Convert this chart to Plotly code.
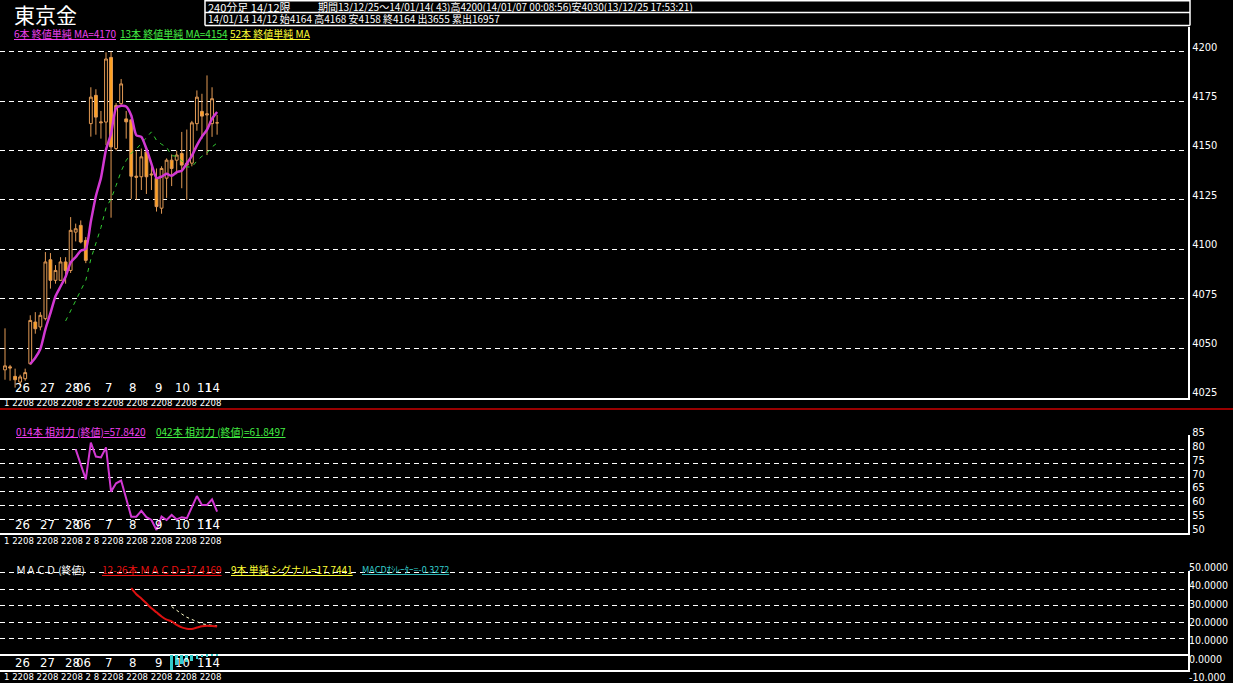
import plotly.graph_objects as go

W, H = 1233, 683

# ---------------- data (240-minute bars, 43 bars) ----------------
bar_idx = list(range(43))
open_ = [4039, 4040.5, 4035.7, 4032.8, 4034.5, 4042.1, 4063.2, 4060.7, 4064.9, 4094.7,
         4084.3, 4084.3, 4093.6, 4089.3, 4108.7, 4112.1, 4104.5, 4163.6, 4177.9, 4164,
         4164.4, 4197.1, 4151, 4173.7, 4166, 4165.5, 4137, 4136.7, 4149.3, 4137.6,
         4135.9, 4120.8, 4136, 4145.1, 4145.1, 4148.5, 4142.6, 4143.6, 4163.6, 4169.8,
         4168, 4163.6, 4164]
high_ = [4060, 4041.5, 4039.6, 4036.5, 4039.6, 4066.6, 4068.2, 4068.2, 4098.6, 4098.1,
         4092, 4096, 4096, 4116.3, 4113, 4114.6, 4106.2, 4182, 4181, 4170,
         4199.7, 4200, 4174, 4186.2, 4170, 4166, 4150, 4151, 4151.8, 4143.5,
         4140.9, 4142, 4146, 4148, 4150, 4159.4, 4160.6, 4165, 4180.4, 4178.7,
         4188, 4182, 4168]
low_ = [4034, 4033.5, 4030, 4031, 4033.5, 4041.5, 4057.3, 4059, 4064, 4080.1,
        4082.6, 4084, 4082.6, 4088, 4104, 4103, 4093, 4157, 4158, 4156,
        4152.7, 4116, 4150, 4172, 4156, 4125.5, 4125, 4130, 4128, 4130,
        4119.1, 4118, 4126, 4132, 4138, 4130.9, 4125, 4142, 4160, 4156,
        4147.7, 4156.9, 4158]
close_ = [4041, 4040, 4034, 4035.4, 4037.6, 4064, 4059.8, 4066.6, 4093.6, 4084.3,
          4089.3, 4093.6, 4089.3, 4109.6, 4110.4, 4103.7, 4094.4, 4177, 4166.9, 4164.4,
          4196.3, 4151.8, 4172.8, 4183.7, 4164.5, 4137, 4136.5, 4146.8, 4136.7, 4138,
          4121.6, 4140.9, 4145.1, 4140.9, 4147.7, 4142.6, 4143.5, 4164, 4177, 4167.4,
          4168.5, 4176.2, 4164]

ma_short_n = 6
ma_mid_n = 13

# RSI(14), bars 14..42
rsi_bars = list(range(14, 43))
rsi14 = [80.2, 75.0, 69.4, 82.6, 77.6, 77.3, 80.9, 65.0, 68.0, 69.0,
         62.5, 56.0, 56.0, 58.1, 55.8, 54.8, 51.2, 56.0, 54.8, 56.6,
         55.0, 55.8, 55.4, 59.6, 63.4, 60.2, 60.2, 62.2, 57.8]

# MACD
macd_bars = list(range(25, 43))
macd = [40.7, 37.0, 34.5, 31.5, 28.5, 26.0, 23.5, 21.5, 20.5, 18.3,
        16.8, 16.0, 15.9, 16.7, 17.5, 17.9, 17.6, 17.4]
signal_bars = list(range(33, 43))
signal = [29.5, 27.0, 25.0, 23.0, 21.5, 20.0, 19.0, 18.5, 18.0, 17.7]
osc = [-10.0, -6.0, -5.5, -4.5, -3.5, -2.5, -1.5, -1.0, -0.6, -0.3]

# axis labels
day_tick_bar = [3.56, 8.5, 13.3, 15.6, 20.4, 25.3, 30.3, 35.2, 39.6, 41.0]
day_tick_text = ["26", "27", "28", "06", "7", "8", "9", "10", "11", "14"]
price_ticks = [4025, 4050, 4075, 4100, 4125, 4150, 4175, 4200]
rsi_ticks = [50, 55, 60, 65, 70, 75, 80, 85]
macd_grid = [10, 20, 30, 40, 50]
macd_ticks = [-10, 0, 10, 20, 30, 40, 50]
macd_tick_text = ["-10.000", "0.0000", "10.0000", "20.0000", "30.0000", "40.0000", "50.0000"]
hour_text = "1 2208 2208 2208 2 8 2208 2208 2208 2208 2208"

header_big = "東京金"
header_r1a = "240分足 14/12限"
header_r1b = "期間13/12/25～14/01/14( 43)高4200(14/01/07 00:08:56)安4030(13/12/25 17:53:21)"
header_r2 = "14/01/14 14/12 始4164 高4168 安4158 終4164 出3655 累出16957"
rsi14_last = "57.8420"
rsi42_last = "61.8497"
macd_last = "17.4169"
signal_last = "17.7441"
osc_last = "-0.3272"


def sma(vals, n):
    out = []
    for i in range(len(vals)):
        out.append(None if i + 1 < n else sum(vals[i + 1 - n:i + 1]) / n)
    return out


ma6 = sma(close_, ma_short_n)
ma13 = sma(close_, ma_mid_n)

# ---------------- layout helpers (pixel -> paper) ----------------
def py(p):
    return 1 - p / H


def pxx(p):
    return p / W


XR = [-0.99, 234.26]
XDOM = [0, pxx(1188)]
FONT_JP = "Noto Sans CJK JP, sans-serif"
FONT_NUM = "Liberation Sans Narrow, DejaVu Sans Condensed, Liberation Sans, sans-serif"
MAG = "#D238D2"
GRN = "#33CC33"
YEL = "#FFFF33"
ORG = "#FFA21F"
WICK = "#E29A55"
GRID = "#FFFFFF"
DASH = "5px,4px"

fig = go.Figure()

fig.add_trace(go.Candlestick(
    x=bar_idx, open=open_, high=high_, low=low_, close=close_,
    increasing=dict(line=dict(color=WICK, width=1), fillcolor="#000000"),
    decreasing=dict(line=dict(color=WICK, width=1), fillcolor=ORG),
    whiskerwidth=0, xaxis="x", yaxis="y", showlegend=False, hoverinfo="skip"))
fig.add_trace(go.Scatter(x=bar_idx, y=ma13, mode="lines",
                         line=dict(color=GRN, width=1, dash="4px,5px"),
                         xaxis="x", yaxis="y", showlegend=False, hoverinfo="skip"))
fig.add_trace(go.Scatter(x=bar_idx, y=ma6, mode="lines",
                         line=dict(color=MAG, width=2.5, shape="spline", smoothing=0.6),
                         xaxis="x", yaxis="y", showlegend=False, hoverinfo="skip"))

fig.add_trace(go.Scatter(x=rsi_bars, y=rsi14, mode="lines",
                         line=dict(color=MAG, width=2),
                         xaxis="x2", yaxis="y2", showlegend=False, hoverinfo="skip"))

fig.add_trace(go.Bar(x=signal_bars, y=osc, width=0.35,
                     marker=dict(color="#33CCCC", line=dict(width=0)),
                     xaxis="x3", yaxis="y3", showlegend=False, hoverinfo="skip"))
fig.add_trace(go.Scatter(x=signal_bars, y=signal, mode="lines",
                         line=dict(color="#FFFFCC", width=1, dash="3px,3px"),
                         xaxis="x3", yaxis="y3", showlegend=False, hoverinfo="skip"))
fig.add_trace(go.Scatter(x=macd_bars, y=macd, mode="lines",
                         line=dict(color="#DD1111", width=2, shape="spline", smoothing=0.6),
                         xaxis="x3", yaxis="y3", showlegend=False, hoverinfo="skip"))
# carrier for the MACD label axis
fig.add_trace(go.Scatter(x=[None], y=[None], xaxis="x3", yaxis="y4",
                         showlegend=False, hoverinfo="skip"))

xcommon = dict(range=XR, domain=XDOM, showgrid=False, zeroline=False,
               showline=True, linecolor="#FFFFFF", linewidth=2, automargin=False,
               showticklabels=False, ticks="", fixedrange=True)

ycommon = dict(side="right", showgrid=True, gridcolor=GRID, gridwidth=1, griddash=DASH,
               zeroline=False, showline=True, linecolor="#FFFFFF", linewidth=2,
               ticks="", tickfont=dict(color="#FFFFFF", size=11, family=FONT_NUM),
               tickmode="array", fixedrange=True, ticklabeloverflow="allow",
               automargin=False)

fig.update_layout(
    width=W, height=H, autosize=False,
    margin=dict(l=0, r=0, t=0, b=0, pad=0, autoexpand=False),
    paper_bgcolor="#000000", plot_bgcolor="rgba(0,0,0,0)",
    hovermode=False, boxgap=0.2, bargap=0, showlegend=False,
    xaxis=dict(anchor="y", **xcommon),
    xaxis2=dict(anchor="y2", matches="x", **xcommon),
    xaxis3=dict(anchor="y3", matches="x", **xcommon),
    yaxis=dict(domain=[py(397.5), py(27)], range=[4025, 4212.5], anchor="x",
               tickvals=price_ticks, ticklabelshift=-5, **ycommon),
    yaxis2=dict(domain=[py(533.3), py(435.2)], range=[50, 85.3], anchor="x2",
                tickvals=rsi_ticks, ticklabelshift=-4, mirror=True, **ycommon),
    yaxis3=dict(domain=[py(670), py(571)], range=[-9.15, 51.2], anchor="x3",
                side="right", showgrid=True, gridcolor=GRID, gridwidth=1, griddash=DASH,
                tickmode="array", tickvals=macd_grid, showticklabels=False,
                ticks="", zeroline=True, zerolinecolor="#FFFFFF", zerolinewidth=2,
                showline=True, linecolor="#FFFFFF", linewidth=2, mirror=True,
                fixedrange=True, automargin=False),
    yaxis4=dict(domain=[py(677.5), py(567)], range=[-10, 50], anchor="x3", side="right",
                showgrid=False, zeroline=False, showline=False, ticks="",
                tickmode="array", tickvals=macd_ticks, ticktext=macd_tick_text,
                ticklabeloverflow="allow", automargin=False,
                tickfont=dict(color="#FFFFFF", size=10.5, family=FONT_NUM), fixedrange=True),
)
fig.update_xaxes(rangeslider_visible=False)

shapes = []
def hline(y, x0, x1, color="#FFFFFF", w=1.5):
    shapes.append(dict(type="line", xref="paper", yref="paper", x0=pxx(x0), x1=pxx(x1),
                       y0=py(y), y1=py(y), line=dict(color=color, width=w)))
def vline(x, y0, y1, color="#FFFFFF", w=1.5):
    shapes.append(dict(type="line", xref="paper", yref="paper", x0=pxx(x), x1=pxx(x),
                       y0=py(y0), y1=py(y1), line=dict(color=color, width=w)))

# header box
hline(0.8, 205, 1190)
hline(12.5, 205, 1190)
hline(25.5, 205, 1190)
vline(205, 0, 25.5)
vline(1190, 0, 25.5)
# red separator
hline(409, 0, 1233, color="#CC0000", w=1.5)
fig.update_layout(shapes=shapes)

ann = []
def text(x, y, s, color="#FFFFFF", size=10, family=FONT_JP, xref="paper", anchor="left"):
    ann.append(dict(xref=xref, yref="paper", x=(pxx(x) if xref == "paper" else x), y=py(y),
                    text=s, showarrow=False, xanchor=anchor, yanchor="middle",
                    font=dict(color=color, size=size, family=family)))

text(12, 14, header_big, size=21)
text(206, 7, header_r1a, size=11)
text(316, 7, header_r1b, size=10)
text(206, 19, header_r2, size=10)

text(12, 33, f"<u>{ma_short_n}本 終値単純 MA={ma6[-1]:.0f}</u>", color="#F040F0")
text(118, 33, f"<u>{ma_mid_n}本 終値単純 MA={ma13[-1]:.0f}</u>", color="#44EE44")
text(228, 33, "<u>52本 終値単純 MA</u>", color=YEL)

text(14, 431.5, f"<u>014本 相対力 (終値)={rsi14_last}</u>", color="#F040F0")
text(154, 431.5, f"<u>042本 相対力 (終値)={rsi42_last}</u>", color="#44EE44")

text(14, 569, "ＭＡＣＤ (終値)", color="#FFFFFF")
text(100, 569, f"<u>12-26本 ＭＡＣＤ={macd_last}</u>", color="#EE1111")
text(229, 569, f"<u>9本 単純 シグナル={signal_last}</u>", color=YEL)
text(360, 569, f"<u>MACDｵｼﾚｰﾀｰ={osc_last}</u>", color="#33CCCC", size=9)

# day labels inside each panel, near its bottom
for xr, yy in (("x", 387), ("x2", 524), ("x3", 662)):
    for b, t in zip(day_tick_bar, day_tick_text):
        text(b, yy, t, size=13, family=FONT_NUM, xref=xr, anchor="center")

for yy in (402, 540, 676.5):
    text(2, yy, hour_text, size=9.5, family=FONT_NUM)

fig.update_layout(annotations=ann)

fig.write_html(
    "out.html",
    config={"displayModeBar": False, "responsive": False},
    post_script=("document.body.style.margin='0';document.body.style.overflow='hidden';"
                 "var d=document.getElementById('{plot_id}');d.style.position='absolute';"
                 "d.style.left='0px';d.style.top='0px';"),
)
